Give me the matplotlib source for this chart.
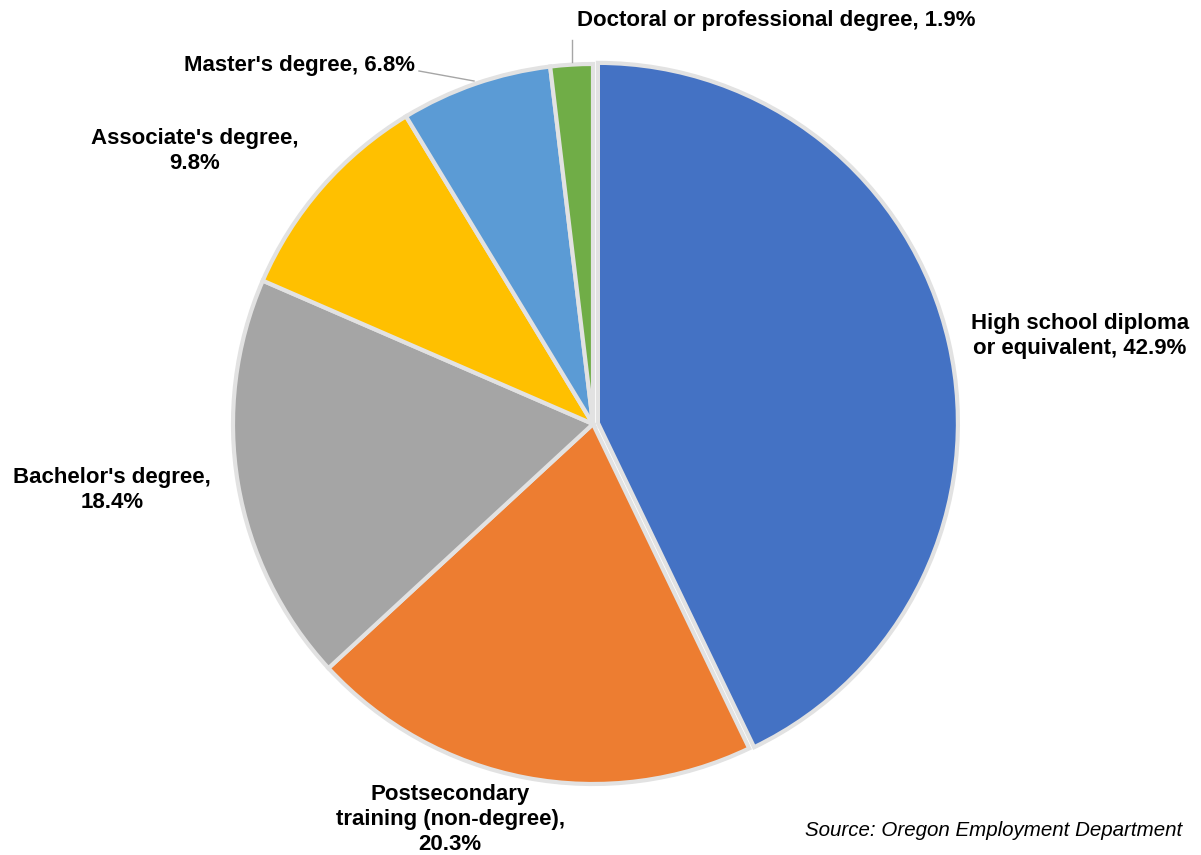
import matplotlib.pyplot as plt

# data
labels = ["High school diploma\nor equivalent, 42.9%",
          "Postsecondary\ntraining (non-degree),\n20.3%",
          "Bachelor's degree,\n18.4%",
          "Associate's degree,\n9.8%",
          "Master's degree, 6.8%",
          "Doctoral or professional degree, 1.9%"]
shares = [42.9, 20.3, 18.4, 9.8, 6.8, 1.9]
colors = ["#4472c4", "#ed7d31", "#a5a5a5", "#ffc000", "#5b9bd5", "#70ad47"]

plt.rcParams['font.family'] = ['Liberation Sans', 'DejaVu Sans']

fig = plt.figure(figsize=(12.01, 8.55), dpi=100)
cx, cy, r = 593, 424, 360
ax = fig.add_axes([(cx - r) / 1201, (855 - cy - r) / 855, 2 * r / 1201, 2 * r / 855])

ax.pie(shares, colors=colors, startangle=90, counterclock=False,
       explode=[0.014, 0, 0, 0, 0, 0],
       wedgeprops=dict(edgecolor="#e2e2e2", linewidth=3))
ax.set_xlim(-1, 1)
ax.set_ylim(-1, 1)
ax.set_aspect('equal')
ax.axis('off')


def px(x, y):
    # pixel position -> data coords
    return (x - cx) / r, (cy - y) / r


# label positions (pixels)
spots = [(1080, 336), (450, 819), (112, 490), (195, 151), (415, 65), (776, 20)]
has = ['center', 'center', 'center', 'center', 'right', 'center']
for lab, (x, y), ha in zip(labels, spots, has):
    tx, ty = px(x, y)
    ax.text(tx, ty, lab, ha=ha, va='center', fontsize=16, fontweight='bold',
            linespacing=1.25, clip_on=False)

# leader lines
ax.plot(*zip(px(572, 40), px(572, 62)), color='#a6a6a6', lw=1, clip_on=False)
ax.plot(*zip(px(419, 71), px(474, 81)), color='#a6a6a6', lw=1, clip_on=False)

fig.text(1182 / 1201, 1 - 830 / 855, "Source: Oregon Employment Department",
         ha='right', va='center', fontsize=14.8, style='italic')

fig.savefig("out.png", dpi=100)
